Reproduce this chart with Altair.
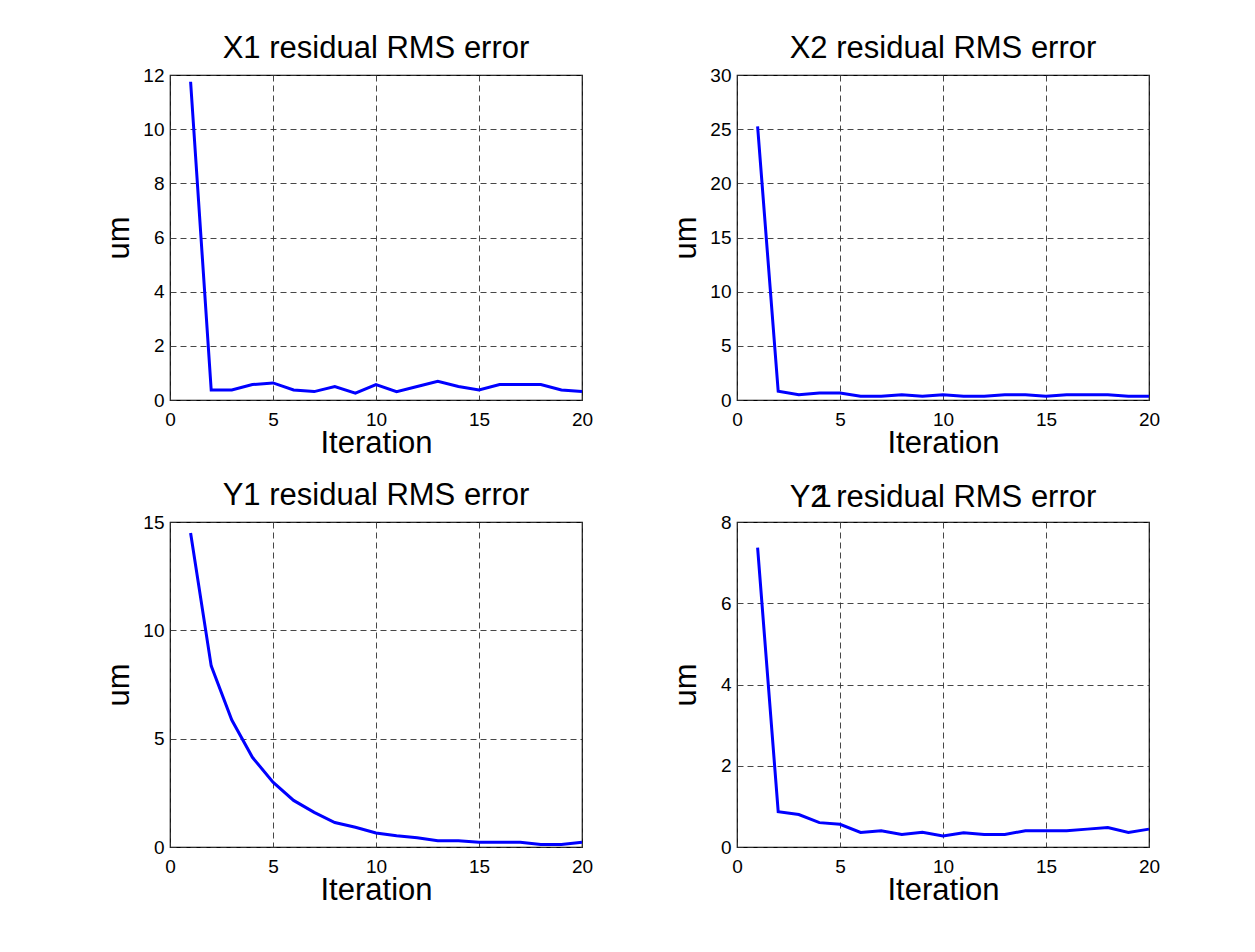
import altair as alt
import pandas as pd

iterations = list(range(1, 21))
x1_rms = [11.75, 0.37, 0.37, 0.57, 0.63, 0.37, 0.31, 0.50, 0.25, 0.57,
          0.31, 0.50, 0.69, 0.50, 0.37, 0.57, 0.57, 0.57, 0.37, 0.31]
x2_rms = [25.26, 0.80, 0.49, 0.65, 0.65, 0.34, 0.34, 0.49, 0.34, 0.49,
          0.34, 0.34, 0.49, 0.49, 0.34, 0.49, 0.49, 0.49, 0.34, 0.34]
y1_rms = [14.49, 8.36, 5.86, 4.14, 2.99, 2.15, 1.60, 1.13, 0.91, 0.65,
          0.52, 0.43, 0.29, 0.29, 0.22, 0.22, 0.22, 0.12, 0.12, 0.22]
y2_rms = [7.37, 0.87, 0.80, 0.60, 0.56, 0.36, 0.40, 0.31, 0.36, 0.27,
          0.35, 0.31, 0.31, 0.40, 0.40, 0.40, 0.44, 0.48, 0.36, 0.44]
x_ticks = [0, 5, 10, 15, 20]
titles = ["X1 residual RMS error", "X2 residual RMS error",
          "Y1 residual RMS error", "Y2 residual RMS error"]

FONT = "Liberation Sans"
TFS = 31
W, H = 412, 325


def panel(title, values, ymax, ystep, overlay=None):
    df = pd.DataFrame({"Iteration": iterations, "um": values})
    line = alt.Chart(df).mark_line(color="#0000FF", strokeWidth=3).encode(
        x=alt.X("Iteration:Q",
                scale=alt.Scale(domain=[0, 20], nice=False, zero=False),
                axis=alt.Axis(values=x_ticks, title="Iteration",
                              titleY=43, titleBaseline="middle")),
        y=alt.Y("um:Q",
                scale=alt.Scale(domain=[0, ymax], nice=False),
                axis=alt.Axis(values=list(range(0, ymax + 1, ystep)), title="um",
                              titleX=-51, titleBaseline="middle")),
    )
    if overlay is None:
        return line.properties(
            width=W, height=H,
            title=alt.TitleParams(title, font=FONT, fontSize=TFS, fontWeight="normal",
                                  offset=1, color="black"),
        )
    # title drawn as text, with the stray overlapping "1" glyph of the original
    ttl = alt.Chart(pd.DataFrame({"t": [title]})).mark_text(
        font=FONT, fontSize=TFS, align="center", baseline="alphabetic", color="black"
    ).encode(text="t:N", x=alt.value(W / 2), y=alt.value(-15))
    ov = alt.Chart(pd.DataFrame({"t": [overlay]})).mark_text(
        font=FONT, fontSize=TFS, align="center", baseline="alphabetic", color="black"
    ).encode(text="t:N", x=alt.value(86), y=alt.value(-15))
    return alt.layer(line, ttl, ov).properties(width=W, height=H)


p1 = panel(titles[0], x1_rms, 12, 2)
p2 = panel(titles[1], x2_rms, 30, 5)
p3 = panel(titles[2], y1_rms, 15, 5)
p4 = panel(titles[3], y2_rms, 8, 2, overlay="1")

chart = alt.concat(p1, p2, p3, p4, columns=2,
                   spacing={"row": 122, "column": 155}, bounds="flush").properties(
    padding={"left": 94, "top": 24, "right": 20, "bottom": 20},
    background="white",
).configure_view(
    stroke="black", strokeWidth=1.2
).configure_axis(
    grid=True, gridColor="#333333", gridDash=[6, 4], gridWidth=1, gridOpacity=0.9,
    domain=False, ticks=False, tickSize=0, labelFlush=False,
    labelFont=FONT, labelFontSize=19, labelColor="black", labelPadding=10,
    titleFont=FONT, titleFontSize=TFS, titleFontWeight="normal", titleColor="black",
).configure_axisY(
    labelPadding=6
)

chart.save("out.html", embed_options={"renderer": "svg", "actions": False})
